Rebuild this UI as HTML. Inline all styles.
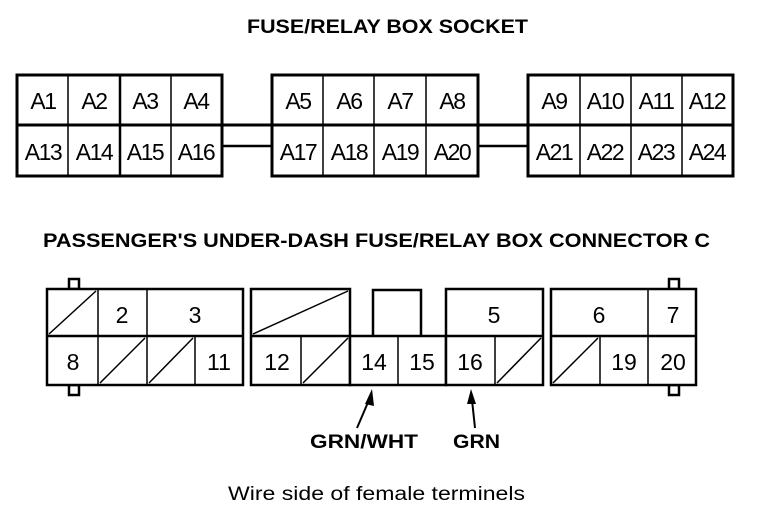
<!DOCTYPE html>
<html><head><meta charset="utf-8"><style>
html,body{margin:0;padding:0;background:#fff;}
svg{display:block;}
text{font-family:"Liberation Sans",sans-serif;fill:#000;}
</style></head><body>
<svg width="768" height="530" viewBox="0 0 768 530" xmlns="http://www.w3.org/2000/svg">
<g font-weight="bold" font-size="19">
<text x="247" y="33" textLength="281" lengthAdjust="spacingAndGlyphs">FUSE/RELAY BOX SOCKET</text>
<text x="43" y="247" textLength="667" lengthAdjust="spacingAndGlyphs">PASSENGER'S UNDER-DASH FUSE/RELAY BOX CONNECTOR C</text>
</g>
<g stroke="#000" fill="none">
<line x1="222" y1="125" x2="528" y2="125" stroke-width="3"/>
<line x1="222" y1="146" x2="272" y2="146" stroke-width="2.5"/>
<line x1="478" y1="146" x2="528" y2="146" stroke-width="2.5"/>
<rect x="17" y="75" width="205" height="101" stroke-width="3" fill="#fff"/>
<line x1="17" y1="125" x2="222" y2="125" stroke-width="3"/>
<line x1="68" y1="75" x2="68" y2="176" stroke-width="1.5"/>
<line x1="120" y1="75" x2="120" y2="176" stroke-width="2.5"/>
<line x1="171" y1="75" x2="171" y2="176" stroke-width="1.5"/>
<rect x="272" y="75" width="206" height="101" stroke-width="3" fill="#fff"/>
<line x1="272" y1="125" x2="478" y2="125" stroke-width="3"/>
<line x1="323" y1="75" x2="323" y2="176" stroke-width="1.5"/>
<line x1="374" y1="75" x2="374" y2="176" stroke-width="1.5"/>
<line x1="426" y1="75" x2="426" y2="176" stroke-width="1.5"/>
<rect x="528" y="75" width="205" height="101" stroke-width="3" fill="#fff"/>
<line x1="528" y1="125" x2="733" y2="125" stroke-width="3"/>
<line x1="580" y1="75" x2="580" y2="176" stroke-width="1.5"/>
<line x1="631" y1="75" x2="631" y2="176" stroke-width="1.5"/>
<line x1="682" y1="75" x2="682" y2="176" stroke-width="1.5"/>
</g>
<g font-size="23" text-anchor="middle" letter-spacing="-1.5">
<text x="43" y="109">A1</text><text x="94" y="109">A2</text><text x="145" y="109">A3</text><text x="196" y="109">A4</text>
<text x="43" y="160">A13</text><text x="94" y="160">A14</text><text x="145" y="160">A15</text><text x="196" y="160">A16</text>
<text x="298" y="109">A5</text><text x="349" y="109">A6</text><text x="400" y="109">A7</text><text x="452" y="109">A8</text>
<text x="298" y="160">A17</text><text x="349" y="160">A18</text><text x="400" y="160">A19</text><text x="452" y="160">A20</text>
<text x="554" y="109">A9</text><text x="605" y="109">A10</text><text x="656" y="109">A11</text><text x="707" y="109">A12</text>
<text x="554" y="160">A21</text><text x="605" y="160">A22</text><text x="656" y="160">A23</text><text x="707" y="160">A24</text>
</g>
<g stroke="#000" fill="none">
<rect x="69" y="279" width="10" height="10" stroke-width="2.5"/>
<rect x="69" y="385" width="10" height="10" stroke-width="2.5"/>
<rect x="669" y="279" width="10" height="10" stroke-width="2.5"/>
<rect x="669" y="385" width="10" height="10" stroke-width="2.5"/>
<rect x="47" y="289" width="196" height="96" stroke-width="2.5" fill="#fff"/>
<line x1="47" y1="336" x2="243" y2="336" stroke-width="2.5"/>
<line x1="98" y1="289" x2="98" y2="385" stroke-width="1.5"/>
<line x1="147" y1="289" x2="147" y2="385" stroke-width="1.5"/>
<line x1="195" y1="336" x2="195" y2="385" stroke-width="1.5"/>
<line x1="49" y1="334" x2="96" y2="291" stroke-width="1.5"/>
<line x1="100" y1="383" x2="145" y2="338" stroke-width="1.5"/>
<line x1="149" y1="383" x2="193" y2="338" stroke-width="1.5"/>
<rect x="251" y="289" width="99" height="96" stroke-width="2.5" fill="#fff"/>
<line x1="251" y1="336" x2="350" y2="336" stroke-width="2.5"/>
<line x1="301" y1="336" x2="301" y2="385" stroke-width="1.5"/>
<line x1="253" y1="334" x2="348" y2="291" stroke-width="1.5"/>
<line x1="303" y1="383" x2="348" y2="338" stroke-width="1.5"/>
<rect x="350" y="336" width="96" height="49" stroke-width="2.5" fill="#fff"/>
<line x1="398" y1="336" x2="398" y2="385" stroke-width="1.5"/>
<polyline points="373,336 373,290 421,290 421,336" stroke-width="2.5"/>
<rect x="446" y="289" width="97" height="96" stroke-width="2.5" fill="#fff"/>
<line x1="446" y1="336" x2="543" y2="336" stroke-width="2.5"/>
<line x1="495" y1="336" x2="495" y2="385" stroke-width="1.5"/>
<line x1="497" y1="383" x2="541" y2="338" stroke-width="1.5"/>
<rect x="551" y="289" width="145" height="96" stroke-width="2.5" fill="#fff"/>
<line x1="551" y1="336" x2="696" y2="336" stroke-width="2.5"/>
<line x1="600" y1="336" x2="600" y2="385" stroke-width="1.5"/>
<line x1="648" y1="289" x2="648" y2="385" stroke-width="1.5"/>
<line x1="553" y1="383" x2="598" y2="338" stroke-width="1.5"/>
<line x1="357" y1="428" x2="369" y2="400" stroke-width="2"/>
<line x1="475" y1="428" x2="472" y2="400" stroke-width="2"/>
</g>
<polygon points="372,389 365,404 374,406" fill="#000"/>
<polygon points="471,389 467,404 476,404" fill="#000"/>
<g font-size="23" text-anchor="middle">
<text x="122" y="323">2</text><text x="195" y="323">3</text>
<text x="494" y="323">5</text><text x="599" y="323">6</text><text x="673" y="323">7</text>
<text x="73" y="370">8</text><text x="219" y="370">11</text><text x="277" y="370">12</text>
<text x="374" y="370">14</text><text x="422" y="370">15</text><text x="470" y="370">16</text>
<text x="624" y="370">19</text><text x="673" y="370">20</text>
</g>
<g font-weight="bold" font-size="19">
<text x="310" y="448" textLength="108" lengthAdjust="spacingAndGlyphs">GRN/WHT</text>
<text x="453" y="448" textLength="47" lengthAdjust="spacingAndGlyphs">GRN</text>
</g>
<text x="228" y="500" font-size="19" textLength="297" lengthAdjust="spacingAndGlyphs">Wire side of female terminels</text>
</svg>
</body></html>
